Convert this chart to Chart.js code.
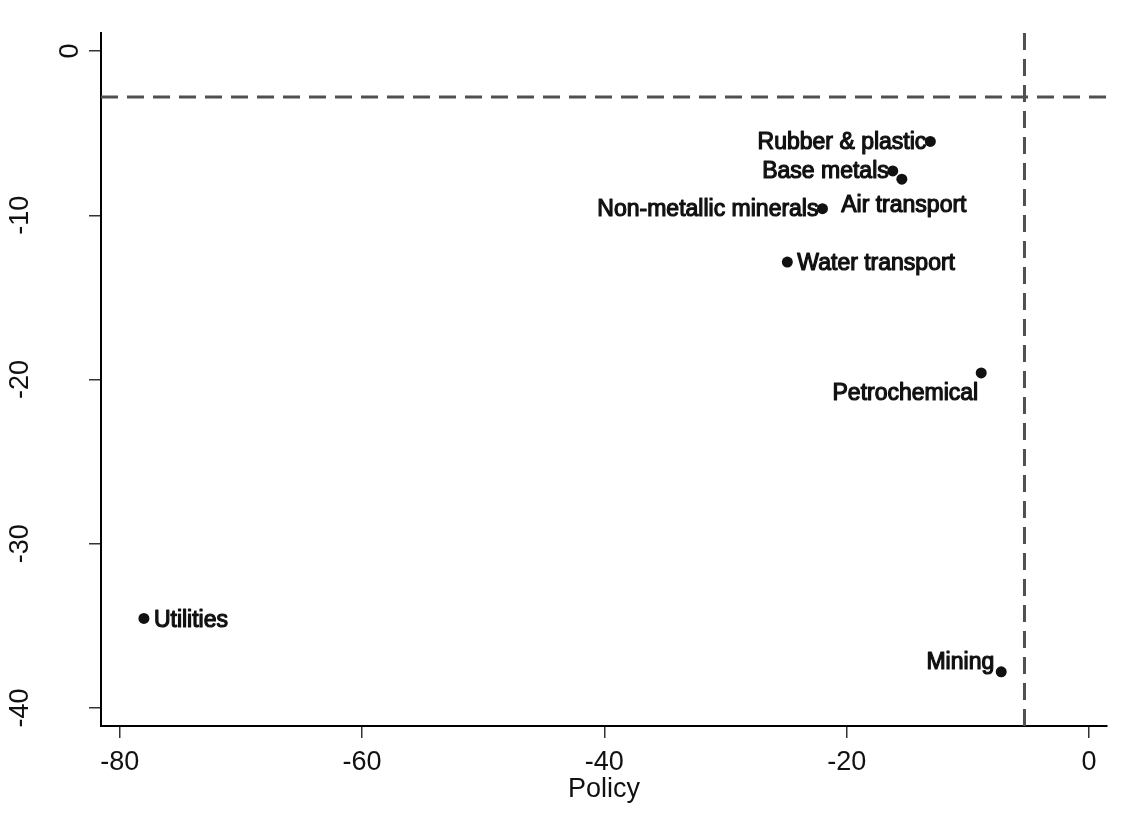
<!DOCTYPE html>
<html>
<head>
<meta charset="utf-8">
<script src="https://cdn.jsdelivr.net/npm/chart.js@4.4.1/dist/chart.umd.min.js"></script>
<style>
  html, body { margin: 0; padding: 0; background: #ffffff; }
  #wrap { width: 1137px; height: 840px; }
</style>
</head>
<body>
<div id="wrap"><canvas id="c" width="1137" height="840"></canvas></div>
<script>
// ---- Data ----
const sectors = ["Rubber & plastic", "Base metals", "Air transport", "Non-metallic minerals",
                 "Water transport", "Petrochemical", "Utilities", "Mining"];
const policyValues = [-13.1, -16.2, -15.45, -22.0, -24.9, -8.9, -78.0, -7.25];
const yValues      = [-5.5, -7.3, -7.8, -9.6, -12.85, -19.6, -34.55, -37.8];
// Stata-style label clock positions
const labelClock   = [9, 9, 6, 9, 3, 7, 3, 10];

const xTicks = [-80, -60, -40, -20, 0];
const xTickLabels = ["-80", "-60", "-40", "-20", "0"];
const yTicks = [0, -10, -20, -30, -40];
const yTickLabels = ["0", "-10", "-20", "-30", "-40"];

const xRange = [-81.54, 1.48];
const yRange = [-41.1, 1.1];
const xRefLine = -5.33;   // vertical dashed reference line
const yRefLine = -2.8;    // horizontal dashed reference line
const xTitle = "Policy";

const FONT = '"Liberation Sans", Arial, Helvetica, sans-serif';

const points = sectors.map((s, i) => ({ x: policyValues[i], y: yValues[i] }));

const markerLabels = {
  id: 'markerLabels',
  afterDatasetsDraw(chart) {
    const meta = chart.getDatasetMeta(2);
    const ctx = chart.ctx;
    ctx.save();
    ctx.font = '23px ' + FONT;
    ctx.fillStyle = '#111';
    ctx.strokeStyle = '#111';
    ctx.lineWidth = 1.2;
    ctx.lineJoin = 'round';
    meta.data.forEach((el, i) => {
      const px = el.x, py = el.y;
      const t = sectors[i];
      let x, y;
      switch (labelClock[i]) {
        case 9:  ctx.textAlign = 'right';  ctx.textBaseline = 'middle'; x = px - 4;  y = py + 1; break;
        case 3:  ctx.textAlign = 'left';   ctx.textBaseline = 'middle'; x = px + 10; y = py + 2; break;
        case 6:  ctx.textAlign = 'center'; ctx.textBaseline = 'top';    x = px + 2;  y = py + 15; break;
        case 7:  ctx.textAlign = 'right';  ctx.textBaseline = 'top';    x = px - 3;  y = py + 9; break;
        case 10: ctx.textAlign = 'right';  ctx.textBaseline = 'alphabetic'; x = px - 7; y = py - 3; break;
        default: ctx.textAlign = 'left';   ctx.textBaseline = 'middle'; x = px + 8; y = py;
      }
      ctx.fillText(t, x, y);
      ctx.strokeText(t, x, y);
    });
    ctx.restore();
  }
};

const yLabels = {
  id: 'yLabels',
  afterDraw(chart) {
    const s = chart.scales.y;
    const ctx = chart.ctx;
    ctx.save();
    ctx.font = '27px ' + FONT;
    ctx.fillStyle = '#111';
    ctx.textAlign = 'center';
    ctx.textBaseline = 'alphabetic';
    yTicks.forEach((v, i) => {
      const lab = yTickLabels[i];
      const bx = lab.length === 1 ? 78 : 28;
      ctx.save();
      ctx.translate(bx, s.getPixelForValue(v));
      ctx.rotate(-Math.PI / 2);
      ctx.fillText(lab, 0, 0);
      ctx.restore();
    });
    ctx.restore();
  }
};

new Chart(document.getElementById('c'), {
  data: {
    datasets: [
      {
        type: 'line',
        data: [{ x: xRange[0], y: yRefLine }, { x: xRange[1], y: yRefLine }],
        borderColor: '#505050', borderWidth: 3, borderDash: [17, 9],
        pointRadius: 0, fill: false, order: 3
      },
      {
        type: 'line',
        data: [{ x: xRefLine, y: yRange[1] }, { x: xRefLine, y: yRange[0] }],
        borderColor: '#505050', borderWidth: 3, borderDash: [17, 9],
        pointRadius: 0, fill: false, order: 2
      },
      {
        type: 'scatter',
        data: points,
        pointRadius: 5.5,
        pointBackgroundColor: '#111',
        pointBorderWidth: 0,
        order: 1
      }
    ]
  },
  options: {
    responsive: false,
    animation: false,
    layout: { padding: { top: 33, right: 30, left: 0, bottom: 0 } },
    plugins: { legend: { display: false }, tooltip: { enabled: false } },
    scales: {
      x: {
        type: 'linear',
        min: xRange[0], max: xRange[1],
        afterBuildTicks: s => { s.ticks = xTicks.map(v => ({ value: v })); },
        afterFit: s => { s.height = 114; },
        grid: { drawOnChartArea: false, drawTicks: true, tickLength: 12, color: '#333', lineWidth: 1.5 },
        border: { display: true, color: '#000', width: 2 },
        ticks: {
          autoSkip: false, maxRotation: 0, minRotation: 0,
          padding: 8, color: '#111',
          font: { family: FONT, size: 27 },
          callback: (v) => { const i = xTicks.indexOf(v); return i >= 0 ? xTickLabels[i] : ''; }
        },
        title: {
          display: true, text: xTitle, color: '#111',
          font: { family: FONT, size: 27, lineHeight: 1 },
          padding: { top: 0, bottom: 37 }
        }
      },
      y: {
        type: 'linear',
        min: yRange[0], max: yRange[1],
        afterBuildTicks: s => { s.ticks = yTicks.map(v => ({ value: v })); },
        afterFit: s => { s.width = 101; },
        grid: { drawOnChartArea: false, drawTicks: true, tickLength: 12, color: '#333', lineWidth: 1.5 },
        border: { display: true, color: '#000', width: 2 },
        ticks: { display: false }
      }
    }
  },
  plugins: [markerLabels, yLabels]
});
</script>
</body>
</html>
